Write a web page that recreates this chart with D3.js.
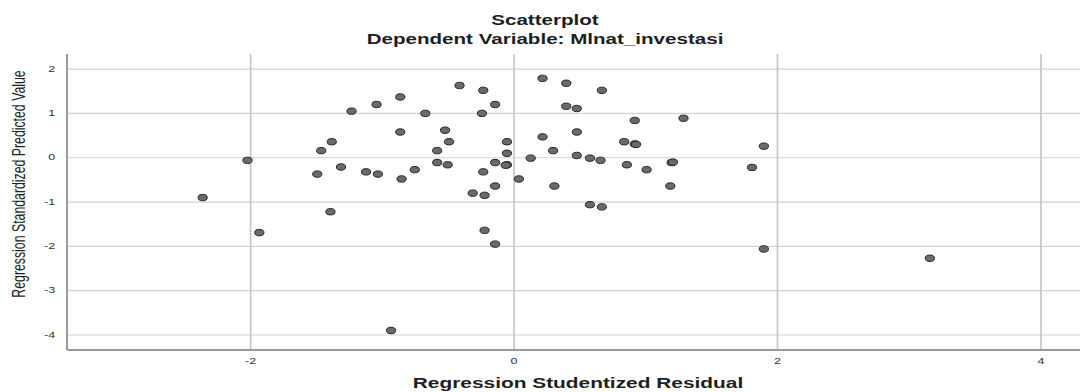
<!DOCTYPE html>
<html>
<head>
<meta charset="utf-8">
<script src="https://cdn.jsdelivr.net/npm/d3@7"></script>
<style>
  body { margin: 0; background: #fff; }
  text { font-family: "Liberation Sans", Arial, sans-serif; }
</style>
</head>
<body>
<div id="wrapper"></div>
<script>
const titleText = "Scatterplot"
const subtitleText = "Dependent Variable: Mlnat_investasi"
const xLabel = "Regression Studentized Residual"
const yLabel = "Regression Standardized Predicted Value"

const xTicks = [-2, 0, 2, 4]
const yTicks = [2, 1, 0, -1, -2, -3, -4]

// studentized residual (x) and standardized predicted value (y)
const residual = [
  -1.23, -1.38, -1.46, -2.02, -1.31, -1.49, -2.36, -1.39, -1.93,
  -1.04, -0.86, -0.67, -0.41, -0.23, -0.14, -0.24, -0.86, -0.52, -0.49, -0.58,
  -0.05, -0.05, -1.12, -1.03, -0.85, -0.75, -0.58, -0.50, -0.14, -0.05, -0.06,
  -0.23, -0.14, -0.31, -0.22, -0.22, -0.14, -0.93,
  0.04, 0.13, 0.22, 0.40, 0.67, 0.40, 0.48, 0.92, 0.22, 0.48, 0.30, 0.84,
  0.92, 0.93, 0.48, 0.58, 0.66, 0.86, 0.31, 0.58, 0.67,
  1.29, 1.90, 1.01, 1.20, 1.21, 1.81, 1.19, 1.90, 3.16
]
const predicted = [
  1.04, 0.35, 0.15, -0.07, -0.22, -0.38, -0.91, -1.23, -1.70,
  1.19, 1.36, 0.99, 1.62, 1.51, 1.19, 0.99, 0.57, 0.61, 0.35, 0.15,
  0.35, 0.09, -0.33, -0.38, -0.49, -0.28, -0.12, -0.17, -0.12, -0.17, -0.18,
  -0.33, -0.65, -0.81, -0.86, -1.65, -1.96, -3.91,
  -0.49, -0.02, 1.78, 1.67, 1.51, 1.15, 1.10, 0.83, 0.46, 0.57, 0.15, 0.35,
  0.30, 0.29, 0.04, -0.02, -0.07, -0.17, -0.65, -1.07, -1.12,
  0.88, 0.25, -0.28, -0.12, -0.11, -0.23, -0.65, -2.07, -2.28
]

const dimensions = {
  width: 1083,
  height: 392,
  margin: { top: 54, right: 3, bottom: 42, left: 67 }
}
dimensions.boundedWidth = dimensions.width - dimensions.margin.left - dimensions.margin.right
dimensions.boundedHeight = dimensions.height - dimensions.margin.top - dimensions.margin.bottom

// the picture is stretched sideways, so text gets the same stretch
const stretch = 1.47

const xScale = d3.scaleLinear().domain([-3.39, 4.3]).range([0, dimensions.boundedWidth])
const yScale = d3.scaleLinear().domain([-4.35, 2.33]).range([dimensions.boundedHeight, 0])

const svg = d3.select("#wrapper")
  .append("svg")
  .attr("width", dimensions.width)
  .attr("height", dimensions.height)

const bounds = svg.append("g")
  .attr("transform", `translate(${dimensions.margin.left},${dimensions.margin.top})`)

// horizontal grid
const yGrid = bounds.append("g")
  .call(d3.axisLeft(yScale).tickValues(yTicks).tickSize(-dimensions.boundedWidth).tickFormat(""))
yGrid.select(".domain").remove()
yGrid.selectAll("line").attr("stroke", "#d2d2d2").attr("stroke-width", 1.2)

// vertical grid
const xGrid = bounds.append("g")
  .attr("transform", `translate(0,${dimensions.boundedHeight})`)
  .call(d3.axisBottom(xScale).tickValues(xTicks).tickSize(-dimensions.boundedHeight).tickFormat(""))
xGrid.select(".domain").remove()
xGrid.selectAll("line").attr("stroke", "#c4c4c4").attr("stroke-width", 1.6)

// axis lines
bounds.append("line")
  .attr("x1", 0).attr("x2", 0).attr("y1", 0).attr("y2", dimensions.boundedHeight)
  .attr("stroke", "#9a9a9a").attr("stroke-width", 2)
bounds.append("line")
  .attr("x1", 0).attr("x2", dimensions.boundedWidth)
  .attr("y1", dimensions.boundedHeight).attr("y2", dimensions.boundedHeight)
  .attr("stroke", "#9a9a9a").attr("stroke-width", 2)

// tick labels
const xAxis = bounds.append("g")
  .attr("transform", `translate(0,${dimensions.boundedHeight})`)
  .call(d3.axisBottom(xScale).tickValues(xTicks).tickSize(0).tickPadding(8).tickFormat(d => d))
xAxis.select(".domain").remove()
xAxis.selectAll("text").attr("font-size", 8.5).attr("fill", "#333")
  .attr("transform", `scale(${stretch},1)`)

const yAxis = bounds.append("g")
  .call(d3.axisLeft(yScale).tickValues(yTicks).tickSize(0).tickPadding(8).tickFormat(d => d))
yAxis.select(".domain").remove()
yAxis.selectAll("text").attr("font-size", 8.5).attr("fill", "#333")
  .attr("transform", `scale(${stretch},1)`)

// points
bounds.selectAll("ellipse")
  .data(residual.map((r, i) => [r, predicted[i]]))
  .join("ellipse")
  .attr("cx", d => xScale(d[0]))
  .attr("cy", d => yScale(d[1]))
  .attr("rx", 4.6)
  .attr("ry", 3.2)
  .attr("fill", "#6a6a6a")
  .attr("stroke", "#262626")
  .attr("stroke-width", 1)

const addLabel = (x, y, text, size, bold, rotate) => {
  svg.append("text")
    .attr("transform", `translate(${x},${y}) scale(${stretch},1)${rotate ? " rotate(-90)" : ""}`)
    .attr("text-anchor", "middle")
    .attr("font-size", size)
    .attr("font-weight", bold ? "bold" : "normal")
    .attr("fill", "#1e1e1e")
    .text(text)
}

// titles
addLabel(545, 25, titleText, 14, true, false)
addLabel(545, 44, subtitleText, 14, true, false)
addLabel(578, 388, xLabel, 14.2, true, false)
addLabel(25, 184, yLabel, 12.3, false, true)
</script>
</body>
</html>
